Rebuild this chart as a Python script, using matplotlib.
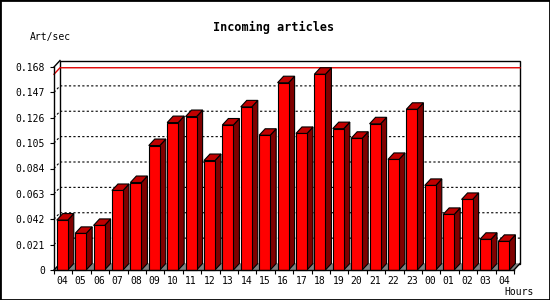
# Входящие статьи по часам: 3D-столбцы в стиле старых графиков
import matplotlib.pyplot as plt
from matplotlib.patches import Polygon, Rectangle

hours = ['04', '05', '06', '07', '08', '09', '10', '11', '12', '13', '14', '15', '16',
         '17', '18', '19', '20', '21', '22', '23', '00', '01', '02', '03', '04']
values = [0.0413, 0.0303, 0.0369, 0.0658, 0.0724, 0.103, 0.122, 0.127, 0.0906, 0.120,
          0.135, 0.1115, 0.155, 0.113, 0.162, 0.117, 0.109, 0.121, 0.0915, 0.133,
          0.070, 0.046, 0.0584, 0.0254, 0.0237]
yticks = [0, 0.021, 0.042, 0.063, 0.084, 0.105, 0.126, 0.147, 0.168]
ytick_labels = ['0', '0.021', '0.042', '0.063', '0.084', '0.105', '0.126', '0.147', '0.168']

W, H = 550, 300
fig = plt.figure(figsize=(W / 100, H / 100), dpi=100)
ax = fig.add_axes([54 / W, 30 / H, 460 / W, 203 / H])
n = len(values)
ymax = yticks[-1]
ax.set_xlim(0, n)
ax.set_ylim(0, ymax)

# глубина в единицах данных (6 px вправо, 6.5 px вверх)
dx = 6 / (460 / n)
dy = 6.5 / 203 * ymax

mono = 'DejaVu Sans Mono'

# задняя стенка и пол
ax.add_patch(Rectangle((dx, dy), n, ymax, facecolor='white', edgecolor='black',
                       lw=1, clip_on=False, zorder=1))
ax.add_patch(Polygon([(0, 0), (n, 0), (n + dx, dy), (dx, dy)], closed=True,
                     facecolor='#808080', edgecolor='none', clip_on=False, zorder=1.5))
ax.plot([0, dx], [ymax, ymax + dy], color='black', lw=1, clip_on=False, zorder=2)
ax.plot([0, dx], [0, dy], color='black', lw=1, clip_on=False, zorder=2)
ax.plot([n, n + dx], [0, dy], color='black', lw=1, clip_on=False, zorder=2)

# пунктирная сетка
for v in yticks[1:-1]:
    ax.plot([0, dx, n + dx], [v, v + dy, v + dy], color='black', lw=0.8,
            linestyle=(0, (2, 2)), clip_on=False, zorder=2)

# линия максимума
vmax = max(values)
ax.plot([0, dx, n + dx], [vmax, vmax + dy, vmax + dy], color='#e00000', lw=1,
        clip_on=False, zorder=2)

# столбцы
for i, v in enumerate(values):
    x0, x1 = i + 0.15, i + 0.75
    z = 3 + i * 0.01
    ax.add_patch(Polygon([(x1, 0), (x1 + dx, dy), (x1 + dx, v + dy), (x1, v)],
                         closed=True, facecolor='#800000', edgecolor='black', lw=0.8,
                         clip_on=False, zorder=z))
    ax.add_patch(Polygon([(x0, v), (x1, v), (x1 + dx, v + dy), (x0 + dx, v + dy)],
                         closed=True, facecolor='#c00000', edgecolor='black', lw=0.8,
                         clip_on=False, zorder=z))
    ax.add_patch(Rectangle((x0, 0), x1 - x0, v, facecolor='#ff0000', edgecolor='black',
                           lw=0.8, clip_on=False, zorder=z))

# оси
for s in ['top', 'right']:
    ax.spines[s].set_visible(False)
for s in ['left', 'bottom']:
    ax.spines[s].set_linewidth(1)
    ax.spines[s].set_zorder(5)
ax.set_yticks(yticks)
ax.set_yticklabels(ytick_labels, family=mono, fontsize=7)
ax.set_xticks(range(n + 1))
ax.set_xticklabels([])
ax.set_xticks([i + 0.45 for i in range(n)], minor=True)
ax.set_xticklabels(hours, minor=True, family=mono, fontsize=7)
ax.tick_params(axis='y', length=3, width=0.8, pad=3.5)
ax.tick_params(axis='x', which='major', length=3, width=0.8)
ax.tick_params(axis='x', which='minor', length=0, pad=4)
ax.patch.set_visible(False)

fig.text(274 / W, 1 - 27 / H, 'Incoming articles', family=mono, fontsize=8.5,
         fontweight='bold', ha='center', va='center')
fig.text(30 / W, 1 - 37 / H, 'Art/sec', family=mono, fontsize=7, ha='left', va='center')
fig.text(534 / W, 1 - 292 / H, 'Hours', family=mono, fontsize=7, ha='right', va='center')

fig.patches.append(Rectangle((0, 0), 1, 1, transform=fig.transFigure, fill=False,
                             edgecolor='black', lw=2))

fig.savefig('out.png', dpi=100)
